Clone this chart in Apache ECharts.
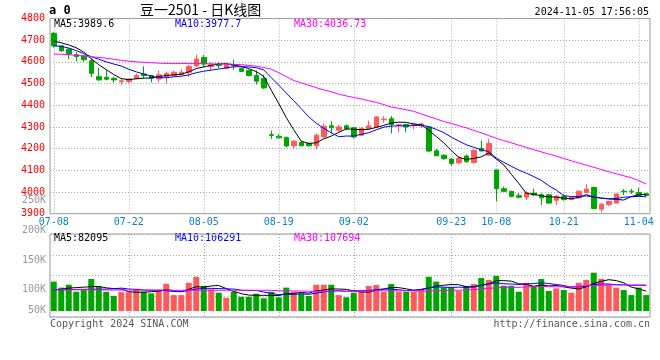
<!DOCTYPE html>
<html><head><meta charset="utf-8">
<script src="https://cdn.jsdelivr.net/npm/echarts@6/dist/echarts.min.js"></script>
<style>html,body{margin:0;padding:0;background:#fff}#c{width:660px;height:360px}</style>
</head><body><div id="c"></div>
<script>
const dates = ['07-08','07-09','07-10','07-11','07-12','07-15','07-16','07-17','07-18','07-19','07-22','07-23','07-24','07-25','07-26','07-29','07-30','07-31','08-01','08-02','08-05','08-06','08-07','08-08','08-09','08-12','08-13','08-14','08-15','08-16','08-19','08-20','08-21','08-22','08-23','08-26','08-27','08-28','08-29','08-30','09-02','09-03','09-04','09-05','09-06','09-09','09-10','09-11','09-12','09-13','09-18','09-19','09-20','09-23','09-24','09-25','09-26','09-27','09-30','10-08','10-09','10-10','10-11','10-14','10-15','10-16','10-17','10-18','10-21','10-22','10-23','10-24','10-25','10-28','10-29','10-30','10-31','11-01','11-04','11-05'];
const opens = [4732,4674,4659,4633,4628,4605,4532,4529,4524,4509,4509,4524,4544,4537,4521,4532,4537,4541,4552,4582,4620,4579,4586,4570,4585,4570,4560,4537,4524,4264,4257,4251,4213,4229,4224,4213,4254,4305,4285,4305,4296,4262,4293,4300,4333,4338,4308,4311,4309,4305,4300,4190,4170,4152,4135,4166,4136,4201,4170,4102,4015,4003,3983,3976,3995,3987,3987,3962,3980,3965,3973,3998,4021,3921,3942,3949,4004,4004,3998,3992];
const closes = [4674,4651,4636,4625,4610,4547,4517,4520,4517,4513,4521,4537,4537,4524,4541,4547,4552,4552,4579,4613,4590,4587,4583,4587,4582,4556,4537,4511,4480,4261,4250,4212,4234,4213,4213,4262,4303,4297,4300,4293,4254,4293,4305,4346,4336,4311,4311,4300,4312,4314,4189,4167,4155,4132,4155,4140,4193,4189,4224,4015,4003,3980,3976,3998,3987,3973,3949,3980,3965,3976,4003,4014,3924,3944,3957,3991,4001,4001,3984,3984];
const lows = [4666,4646,4613,4602,4600,4530,4513,4515,4505,4494,4503,4520,4524,4505,4505,4500,4535,4537,4530,4575,4575,4560,4570,4565,4563,4553,4533,4496,4475,4245,4247,4206,4201,4210,4210,4197,4250,4270,4278,4285,4247,4259,4290,4295,4320,4270,4275,4275,4290,4295,4184,4165,4147,4120,4128,4135,4131,4188,4165,3958,4000,3976,3970,3963,3982,3940,3946,3940,3960,3962,3969,3995,3920,3906,3935,3946,3986,3990,3980,3980];
const highs = [4738,4677,4661,4645,4630,4616,4573,4561,4530,4524,4524,4546,4580,4540,4560,4555,4560,4566,4585,4633,4631,4598,4600,4590,4610,4575,4565,4560,4541,4283,4267,4256,4240,4234,4228,4270,4317,4327,4310,4311,4300,4300,4329,4350,4350,4350,4313,4313,4320,4320,4305,4198,4173,4155,4165,4173,4196,4236,4246,4102,4025,4006,3995,4003,4015,3995,3990,3987,3990,3979,4008,4037,4025,3950,3960,3995,4014,4015,4020,3995];
const ma5 = [4696,4688,4678,4665,4645,4614,4587,4564,4542,4523,4518,4522,4525,4526,4532,4537,4540,4543,4554,4569,4577,4584,4590,4592,4586,4579,4569,4555,4533,4469,4408,4343,4287,4234,4224,4227,4245,4258,4275,4291,4289,4287,4289,4298,4307,4318,4322,4321,4314,4310,4285,4256,4227,4191,4160,4150,4155,4162,4180,4152,4125,4082,4040,3994,3989,3983,3977,3977,3971,3969,3975,3988,3976,3972,3968,3966,3963,3979,3987,3990];
const ma10 = [4674,4671,4664,4652,4638,4624,4612,4600,4590,4581,4566,4554,4544,4534,4527,4527,4531,4534,4540,4550,4557,4562,4567,4573,4577,4578,4577,4573,4563,4527,4493,4456,4421,4384,4347,4317,4294,4273,4255,4258,4258,4266,4273,4287,4299,4304,4305,4305,4306,4308,4302,4289,4274,4253,4235,4218,4206,4195,4186,4156,4137,4119,4101,4087,4071,4054,4029,4009,3983,3979,3979,3982,3977,3972,3969,3970,3976,3978,3980,3978];
const ma30 = [4636,4635,4633,4630,4627,4624,4620,4617,4612,4607,4603,4600,4598,4596,4594,4593,4593,4593,4592,4592,4592,4591,4591,4590,4589,4587,4584,4580,4574,4566,4550,4532,4514,4503,4492,4481,4471,4462,4451,4443,4436,4429,4421,4413,4403,4392,4386,4379,4372,4360,4348,4337,4325,4316,4306,4296,4284,4273,4260,4248,4237,4227,4216,4206,4195,4185,4175,4165,4155,4144,4134,4124,4114,4104,4093,4084,4075,4066,4052,4037];
// volume in thousands (K)
const volumes = [122,97,109,80,87,133,101,80,63,78,78,91,80,73,87,113,66,66,117,142,104,90,76,55,80,59,59,72,53,80,57,97,80,73,62,109,109,109,66,57,76,87,104,108,80,112,80,80,80,91,142,122,98,98,83,104,112,137,129,146,105,105,80,117,105,133,83,94,87,76,117,129,159,133,111,97,87,66,97,66];
const vma5 = [88,90,95,97,99,101,102,96,93,91,80,78,78,80,82,89,84,81,90,101,99,104,106,93,81,72,66,65,65,65,64,72,73,77,74,84,87,92,91,90,83,79,78,86,91,98,97,92,86,89,95,103,107,110,109,101,99,107,113,126,126,124,113,111,102,108,104,106,100,95,91,101,114,123,130,126,117,99,92,82.1];
const vma10 = [88,88,89,89,90,90,90,91,92,95,91,90,87,86,86,84,81,80,85,91,94,94,93,92,91,86,85,85,79,73,68,69,69,71,69,74,79,83,84,82,84,83,85,89,91,91,88,85,86,90,96,100,99,98,99,98,101,107,112,117,113,112,110,112,114,117,114,110,106,99,100,102,110,112,112,109,109,106,107,106.3];
const vma30 = [88,88,88,88,88,88,88,87,87,87,87,87,87,87,87,87,86,86,86,86,86,86,86,86,86,86,86,86,86,86,84,84,83,83,82,81,82,83,83,82,82,82,83,84,84,84,84,84,83,82,83,84,85,86,86,88,89,92,94,96,98,98,98,100,101,102,101,100,101,102,103,105,106,107,108,108,108,108,108,107.7];
const tickDates = ['07-08','07-22','08-05','08-19','09-02','09-23','10-08','10-21','11-04'];
const volGridDates = ['07-22','08-05','08-19','09-02','09-23','10-21'];
const priceHeader = ['MA5:3989.6','MA10:3977.7','MA30:4036.73'];
const volHeader = ['MA5:82095','MA10:106291','MA30:107694'];
const volLabels = ['250K','200K','150K','100K','50K'];
const volLabelY = [200,230,260,289,310];

const UP = '#ff5a5a', DOWN = '#00a600';
const MONO = '"DejaVu Sans Mono", monospace';
const dot = {color:'#aaa', type:[1,2], width:1};

function txt(x, y, s, color, font, align){
  return {type:'text', x:x, y:y, silent:true, style:{text:s, fill:color, font:font, align:align||'left', verticalAlign:'middle'}};
}
const maColors = ['#000000','#0000ff','#ff00ff'];
const headX = [54,175,294];
const graphics = [
  txt(49, 11, 'a 0', '#000', 'bold 12px ' + MONO),
  txt(140, 10, '豆一2501 - 日K线图', '#000', '14px "Noto Sans CJK SC"'),
  txt(649, 12, '2024-11-05 17:56:05', '#000', '10px ' + MONO, 'right'),
  txt(50, 324, 'Copyright 2024 SINA.COM', '#555', '10px ' + MONO),
  txt(650, 324, 'http://finance.sina.com.cn', '#555', '10px ' + MONO, 'right')
];
priceHeader.forEach((s,i)=>graphics.push(txt(headX[i], 24, s, maColors[i], '10px ' + MONO)));
volHeader.forEach((s,i)=>graphics.push(txt(headX[i], 238, s, maColors[i], '10px ' + MONO)));
volLabels.forEach((s,i)=>graphics.push(txt(46, volLabelY[i], s, '#999', '10px ' + MONO, 'right')));

const chart = echarts.init(document.getElementById('c'), null, {renderer:'canvas'});
const lineS = (data, color, xi, yi) => ({type:'line', xAxisIndex:xi, yAxisIndex:yi, data:data, symbol:'none', showSymbol:false, silent:true, lineStyle:{color:color, width:1}, z:3});
chart.setOption({
  animation:false,
  backgroundColor:'#fff',
  grid:[
    {left:50, right:10, top:18.5, height:195.2, show:true, borderColor:'#999', borderWidth:1},
    {left:50, right:10, top:234, height:83, show:true, borderColor:'#999', borderWidth:1}
  ],
  xAxis:[
    {type:'category', gridIndex:0, data:dates, boundaryGap:true,
     axisLine:{show:false}, axisTick:{show:false},
     axisLabel:{interval:(i,v)=>tickDates.indexOf(v)>=0, color:'#0a7fd4', fontFamily:MONO, fontSize:10, margin:4},
     splitLine:{show:true, alignWithLabel:true, interval:(i,v)=>tickDates.indexOf(v)>=0, lineStyle:dot}},
    {type:'category', gridIndex:1, data:dates, boundaryGap:true,
     axisLine:{show:false}, axisTick:{show:false}, axisLabel:{show:false},
     splitLine:{show:true, alignWithLabel:true, interval:(i,v)=>volGridDates.indexOf(v)>=0, lineStyle:dot}}
  ],
  yAxis:[
    {type:'value', gridIndex:0, min:3900, max:4800, interval:100,
     axisLine:{show:false}, axisTick:{show:false},
     axisLabel:{color:'#ff0000', fontFamily:MONO, fontSize:10, margin:5, padding:[0,0,4,0], formatter:v=>String(v)},
     splitLine:{show:true, lineStyle:dot}},
    {type:'value', gridIndex:1, min:-24.9, max:319.55, interval:86.1125,
     axisLine:{show:false}, axisTick:{show:false}, axisLabel:{show:false},
     splitLine:{show:true, lineStyle:dot}}
  ],
  series:[
    {type:'candlestick', xAxisIndex:0, yAxisIndex:0, barWidth:5, silent:true,
     data:dates.map((d,i)=>[opens[i], closes[i], lows[i], highs[i]]),
     itemStyle:{color:UP, color0:DOWN, borderColor:UP, borderColor0:DOWN, borderWidth:1}},
    lineS(ma5, '#000000', 0, 0),
    lineS(ma10, '#0000ff', 0, 0),
    lineS(ma30, '#ff00ff', 0, 0),
    {type:'bar', xAxisIndex:1, yAxisIndex:1, barWidth:6, silent:true,
     data:volumes.map((v,i)=>({value:v, itemStyle:{color: closes[i] >= opens[i] ? UP : DOWN}}))},
    lineS(vma5, '#000000', 1, 1),
    lineS(vma10, '#0000ff', 1, 1),
    lineS(vma30, '#ff00ff', 1, 1)
  ],
  graphic:graphics
});
</script>
</body></html>
